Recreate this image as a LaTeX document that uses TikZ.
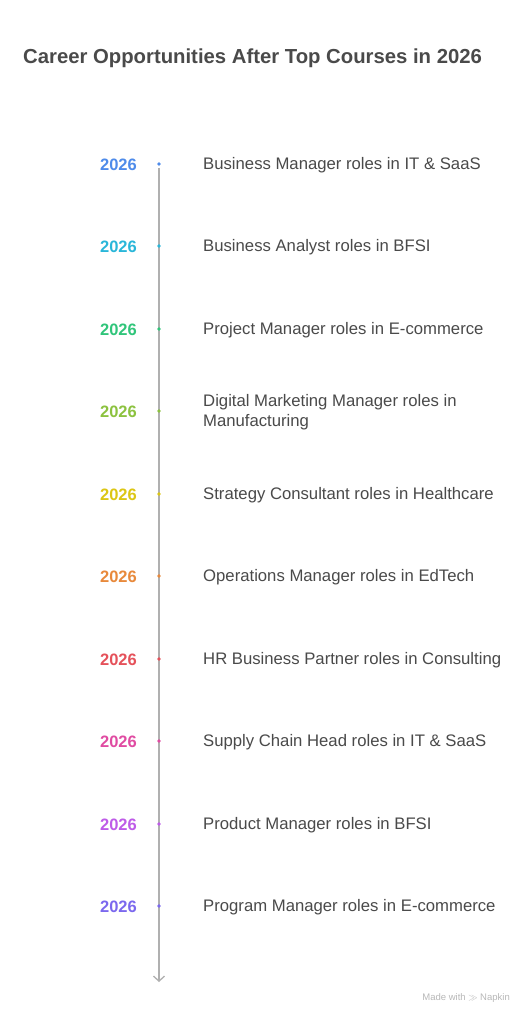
\documentclass[tikz,border=0pt]{standalone}
\usepackage{fontspec}
\setmainfont{Liberation Sans}
\usetikzlibrary{arrows.meta}
\definecolor{c1}{HTML}{4E8BEA}
\definecolor{c2}{HTML}{29B6D9}
\definecolor{c3}{HTML}{30C57A}
\definecolor{c4}{HTML}{8CC23F}
\definecolor{c5}{HTML}{DCC614}
\definecolor{c6}{HTML}{E8893B}
\definecolor{c7}{HTML}{E5515A}
\definecolor{c8}{HTML}{E04BA2}
\definecolor{c9}{HTML}{BE5BE8}
\definecolor{c10}{HTML}{7B68EE}
\definecolor{txt}{HTML}{4A4A4A}
\definecolor{axis}{HTML}{B0B0B0}
\begin{document}
\begin{tikzpicture}[x=1pt,y=-1pt,
  yearlbl/.style={font=\fontsize{16.5}{18}\selectfont\bfseries, anchor=east, inner sep=0pt},
  rolelbl/.style={font=\fontsize{16.7}{20}\selectfont, text=txt, anchor=west, inner sep=0pt, align=left},
  tick/.style={circle, inner sep=0pt, minimum size=3.6pt},
  axisline/.style={draw=axis, line width=1.3pt, -{Straight Barb[length=5pt,width=11pt,line width=1.3pt]}}]
\useasboundingbox[fill=white] (0,0) rectangle (530,1024);
\node[anchor=west, inner sep=0pt, text=txt, font=\fontsize{20.3}{24}\selectfont\bfseries] (title) at (23,58) {Career Opportunities After Top Courses in 2026};
\coordinate (top) at (159,168);
\coordinate (bot) at (159,982);
\draw[axisline] (top) -- (bot);
\foreach \i/\yy/\role in {1/164/Business Manager roles in IT \& SaaS,
  2/246/Business Analyst roles in BFSI,
  3/329/Project Manager roles in E-commerce,
  4/411/{Digital Marketing Manager roles in\\Manufacturing},
  5/494/Strategy Consultant roles in Healthcare,
  6/576/Operations Manager roles in EdTech,
  7/659/HR Business Partner roles in Consulting,
  8/741/Supply Chain Head roles in IT \& SaaS,
  9/824/Product Manager roles in BFSI,
  10/906/Program Manager roles in E-commerce}{
  \node[yearlbl, text=c\i] (y\i) at (137,\yy+1) {2026};
  \node[rolelbl] (r\i) at (203,\yy+1.5) {\role};
  \node[tick, fill=c\i] (d\i) at (159,\yy) {};
}
\node[anchor=east, inner sep=0pt, text=black!28, font=\fontsize{9.5}{11}\selectfont] (brand) at (510,998) {Made with $\gg$ Napkin};
\end{tikzpicture}
\end{document}
